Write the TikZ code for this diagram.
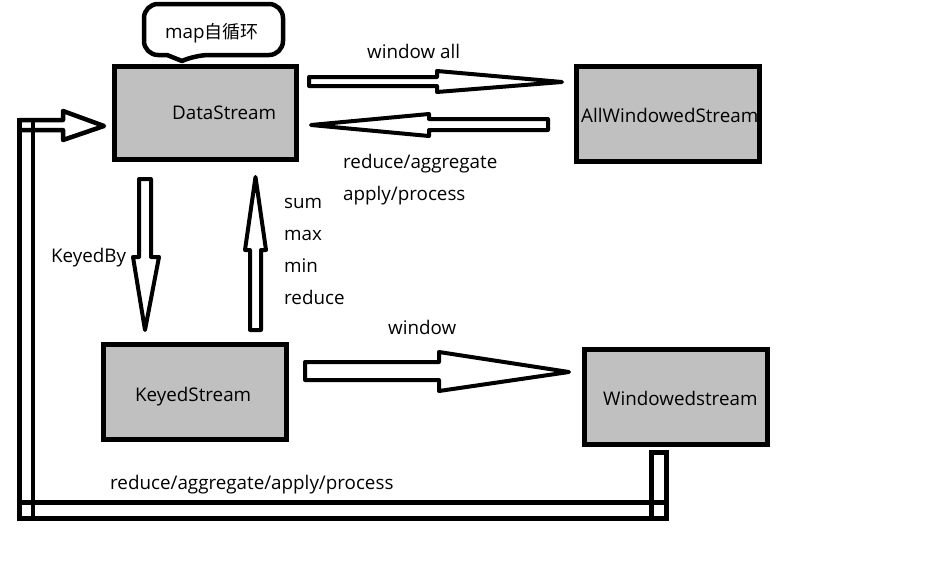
\documentclass[tikz,border=0pt]{standalone}
\usepackage{fontspec}
\setmainfont{Open Sans}
\newfontfamily\cjkfont{Noto Sans CJK SC}
\definecolor{boxgray}{RGB}{192,192,192}
\begin{document}
\begin{tikzpicture}[x=1pt,y=-1pt,
  box/.style={draw=black, line width=5pt, fill=boxgray, rectangle, inner sep=0pt},
  lbl/.style={anchor=base west, inner sep=0pt, font=\fontsize{18.8}{21}\selectfont},
  blockarrow/.style={draw=black, line width=4pt, fill=white, line join=round},
  band/.style={draw=black, line width=4.5pt}]
\useasboundingbox (0,0) rectangle (944,570);
\fill[white] (0,0) rectangle (944,570);

% boxes
\node[box, minimum width=182pt, minimum height=93pt] (ds) at (205.5,112.5) {};
\node[box, minimum width=183pt, minimum height=95pt] (aws) at (668,114) {};
\node[box, minimum width=183pt, minimum height=95pt] (ks) at (195,392) {};
\node[box, minimum width=183pt, minimum height=95pt] (ws) at (676,397) {};

\node[lbl] (dsl) at (172,119) {DataStream};
\node[lbl] (awsl) at (581,122) {AllWindowedStream};
\node[lbl] (ksl) at (135,401) {KeyedStream};
\node[lbl] (wsl) at (603,405) {Windowedstream};

% callout
\draw[line width=4.5pt, fill=white, line join=round]
  (182,61) -- (167,55) [rounded corners=14pt] -- (144,55) -- (144,4) -- (283,4) -- (283,55) -- (195,55) [sharp corners] -- cycle;
\node[lbl] (cl) at (165,38) {map{\cjkfont\fontsize{18}{21}\selectfont 自循环}};

% block arrows
\draw[blockarrow] (309,77) -- (437,77) -- (437,71) -- (562,82) -- (437,92) -- (437,86) -- (309,86) -- cycle;
\draw[blockarrow] (548,119) -- (429,119) -- (429,114) -- (311,125) -- (429,136) -- (429,130) -- (548,130) -- cycle;
\draw[blockarrow] (139,179) -- (139,257) -- (133,257) -- (145,330) -- (159,257) -- (151,257) -- (151,179) -- cycle;
\draw[blockarrow] (250,330) -- (250,250) -- (245,250) -- (255.5,177) -- (266,250) -- (261,250) -- (261,330) -- cycle;
\draw[blockarrow] (305,362) -- (439,362) -- (439,352) -- (569,372) -- (439,391) -- (439,380) -- (305,380) -- cycle;

% return path
\draw[band] (651.5,452.5) rectangle (666.5,518.5);
\draw[band] (19.5,502.5) rectangle (666.5,518.5);
\draw[band] (19.5,120) rectangle (33,518.5);
\draw[band, line join=round] (19.5,120) -- (63,120) -- (63,111) -- (104,126) -- (63,140) -- (63,130) -- (19.5,130) -- cycle;

% labels
\node[lbl] (l1) at (367,58) {window all};
\node[lbl] (l2) at (343,168) {reduce/aggregate};
\node[lbl] (l3) at (343,200) {apply/process};
\node[lbl] (l4) at (51,262) {KeyedBy};
\node[lbl] (l5) at (284,208) {sum};
\node[lbl] (l6) at (284,240) {max};
\node[lbl] (l7) at (284,272) {min};
\node[lbl] (l8) at (284,304) {reduce};
\node[lbl] (l9) at (388,334) {window};
\node[lbl] (l10) at (110,489) {reduce/aggregate/apply/process};
\end{tikzpicture}
\end{document}
